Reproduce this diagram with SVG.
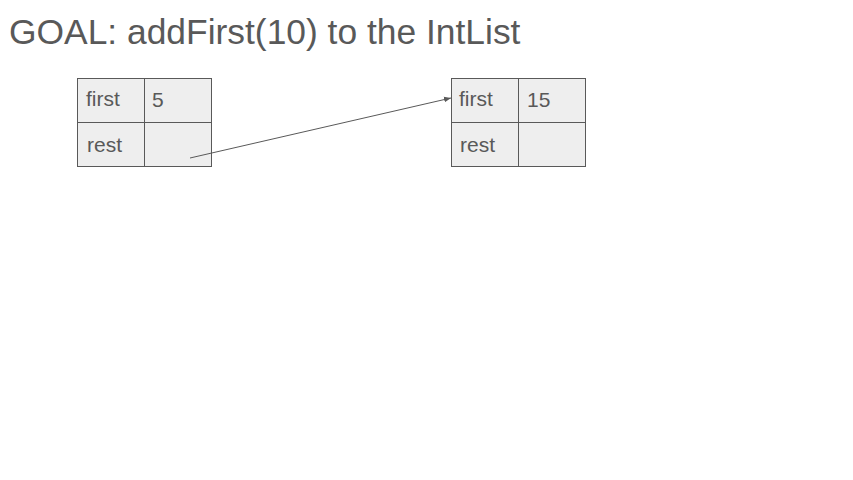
<svg xmlns="http://www.w3.org/2000/svg" width="853" height="480" viewBox="0 0 853 480">
<defs>
<style>
.cell{fill:#eeeeee;stroke:#595959;stroke-width:1}
.t{font-family:"Liberation Sans",Arial,sans-serif;font-size:21px;fill:#595959}
.title{font-family:"Liberation Sans",Arial,sans-serif;font-size:35.4px;fill:#595959}
.conn{stroke:#595959;stroke-width:1;fill:none}
</style>
<marker id="ah" viewBox="0 0 10 10" refX="10" refY="5" markerWidth="7" markerHeight="7" orient="auto" markerUnits="userSpaceOnUse">
<path d="M0,1 L10,5 L0,9 z" fill="#595959"/>
</marker>
</defs>
<rect width="853" height="480" fill="#ffffff"/>
<text class="title" x="9" y="44">GOAL: addFirst(10) to the IntList</text>
<g id="node1">
<rect class="cell" x="77.500" y="78.500" width="67" height="44"/>
<rect class="cell" x="144.500" y="78.500" width="67" height="44"/>
<rect class="cell" x="77.500" y="122.500" width="67" height="44"/>
<rect class="cell" x="144.500" y="122.500" width="67" height="44"/>
<text class="t" x="86" y="106">first</text>
<text class="t" x="152" y="107">5</text>
<text class="t" x="87" y="152">rest</text>
</g>
<g id="node2">
<rect class="cell" x="451.500" y="78.500" width="67" height="44"/>
<rect class="cell" x="518.500" y="78.500" width="67" height="44"/>
<rect class="cell" x="451.500" y="122.500" width="67" height="44"/>
<rect class="cell" x="518.500" y="122.500" width="67" height="44"/>
<text class="t" x="459" y="106">first</text>
<text class="t" x="527" y="107">15</text>
<text class="t" x="460" y="152">rest</text>
</g>
<g id="connectors">
<line class="conn" x1="190" y1="158" x2="451" y2="98" marker-end="url(#ah)"/>
</g>
</svg>
